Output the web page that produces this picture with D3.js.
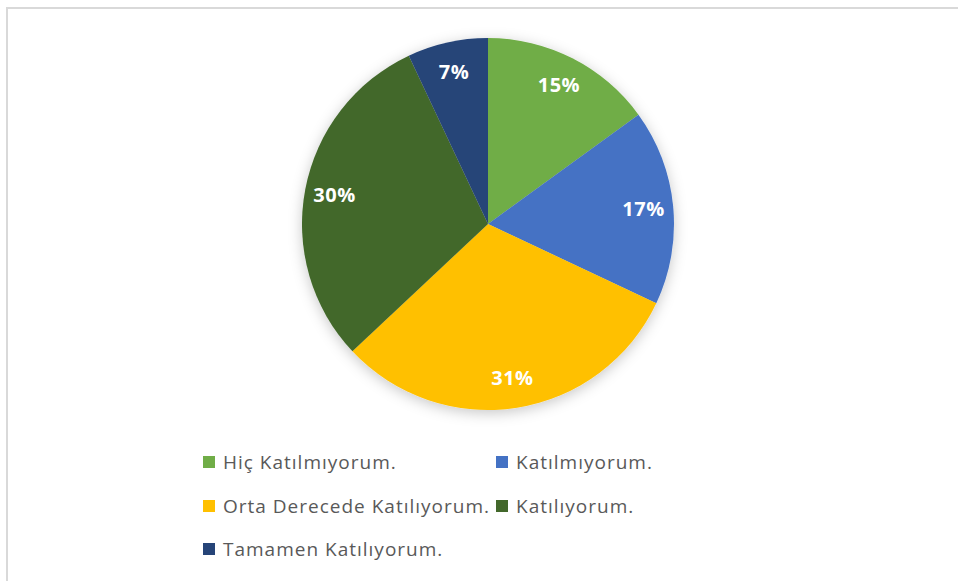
<!DOCTYPE html>
<html>
<head>
<meta charset="utf-8">
<script src="https://cdn.jsdelivr.net/npm/d3@7"></script>
<style>
  body { margin: 0; background: #fff; }
  svg { display: block; }
</style>
</head>
<body>
<script>
// categories and values
var categories = ["Hiç Katılmıyorum.", "Katılmıyorum.", "Orta Derecede Katılıyorum.", "Katılıyorum.", "Tamamen Katılıyorum."];
var values = [15, 17, 31, 30, 7];
var colors = ["#70ad47", "#4472c4", "#ffc000", "#43682b", "#264478"];

var width = 958, height = 581;
var cx = 488, cy = 224, radius = 186;

var svg = d3.select("body").append("svg")
  .attr("width", width)
  .attr("height", height);

// soft shadow under the pie
var defs = svg.append("defs");
var filter = defs.append("filter").attr("id", "shadow")
  .attr("x", "-20%").attr("y", "-20%").attr("width", "140%").attr("height", "140%");
filter.append("feDropShadow")
  .attr("dx", 0).attr("dy", 3)
  .attr("stdDeviation", 7)
  .attr("flood-color", "#000")
  .attr("flood-opacity", 0.22);

// chart frame (runs off right and bottom of the picture)
svg.append("rect")
  .attr("x", 7).attr("y", 8)
  .attr("width", width).attr("height", height)
  .attr("fill", "none")
  .attr("stroke", "#d9d9d9")
  .attr("stroke-width", 2);

var pie = d3.pie().sort(null).value(d => d);
var arcs = pie(values);

var arc = d3.arc().innerRadius(0).outerRadius(radius);
var labelArc = d3.arc().innerRadius(radius * 0.84).outerRadius(radius * 0.84);

var g = svg.append("g").attr("transform", "translate(" + cx + "," + cy + ")");

g.append("g")
  .attr("filter", "url(#shadow)")
  .selectAll("path")
  .data(arcs)
  .enter()
  .append("path")
    .attr("d", arc)
    .attr("fill", (d, i) => colors[i]);

g.selectAll("text")
  .data(arcs)
  .enter()
  .append("text")
    .attr("transform", d => "translate(" + labelArc.centroid(d) + ")")
    .attr("text-anchor", "middle")
    .attr("dy", "0.35em")
    .attr("fill", "#fff")
    .attr("font-family", "'Open Sans', sans-serif")
    .attr("font-weight", "bold")
    .attr("font-size", 20)
    .attr("letter-spacing", 0.5)
    .text(d => d.data + "%");

// legend, two columns
var legendCols = [203, 496];
var legendRows = [462, 506, 549];

var legend = svg.append("g")
  .selectAll("g")
  .data(categories)
  .enter()
  .append("g")
    .attr("transform", (d, i) => "translate(" + legendCols[i % 2] + "," + legendRows[Math.floor(i / 2)] + ")");

legend.append("rect")
  .attr("x", 0).attr("y", -6)
  .attr("width", 12).attr("height", 12)
  .attr("fill", (d, i) => colors[i]);

legend.append("text")
  .attr("x", 20)
  .attr("dy", "0.35em")
  .attr("fill", "#595959")
  .attr("font-family", "'Open Sans', sans-serif")
  .attr("font-size", 19)
  .attr("letter-spacing", 1)
  .text(d => d);
</script>
</body>
</html>
